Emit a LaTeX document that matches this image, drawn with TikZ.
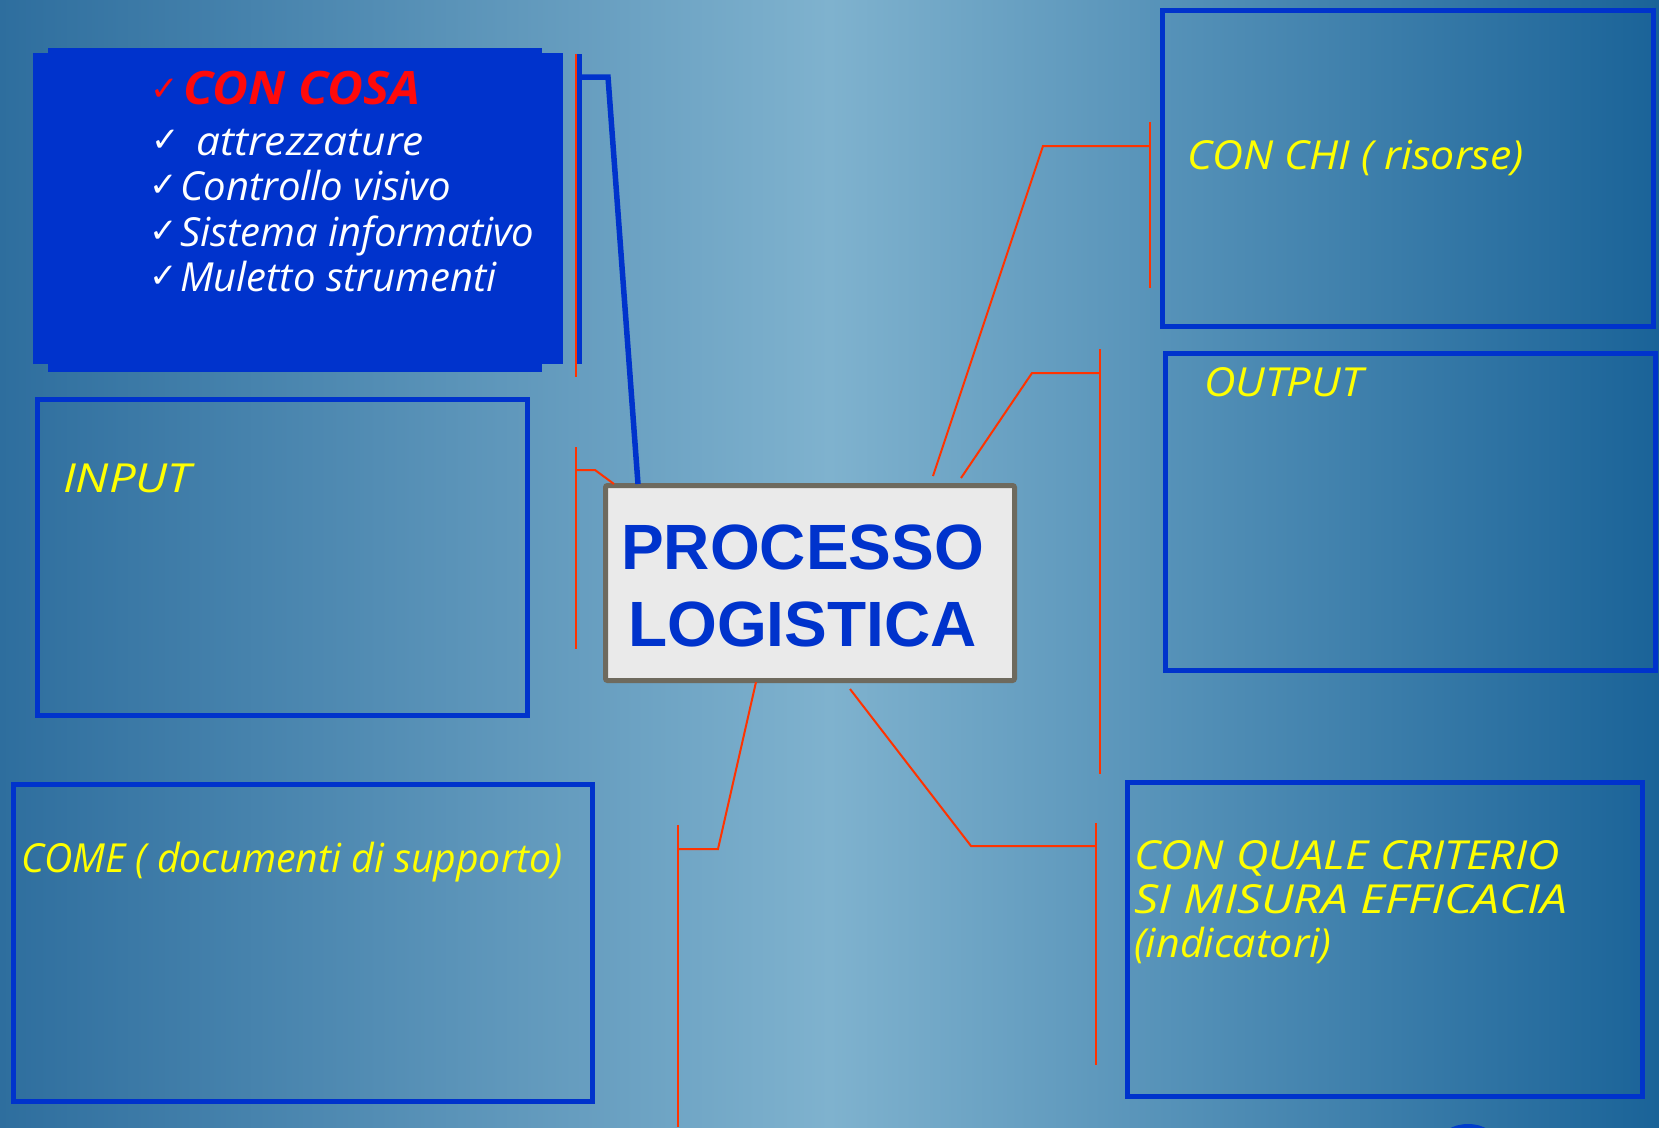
\documentclass[tikz,border=0pt]{standalone}
\usepackage{graphicx}
\usepackage{fontspec}
\setmainfont{Open Sans}
\newfontfamily\titlefont{Liberation Sans}
\newfontfamily\tickfont{DejaVu Sans}
\usetikzlibrary{positioning}

\definecolor{bgdark}{RGB}{46,110,158}
\definecolor{bgdarkr}{RGB}{26,99,152}
\definecolor{bglight}{RGB}{127,178,206}
\definecolor{boxblue}{RGB}{0,51,204}
\definecolor{noteyellow}{RGB}{255,255,0}
\definecolor{linkred}{RGB}{255,51,0}
\definecolor{cosared}{RGB}{255,10,10}
\definecolor{procgray}{RGB}{110,106,94}
\definecolor{procfill}{RGB}{234,234,234}

% widen a text like the hand font of the slide
\newcommand{\widen}[2]{\scalebox{#1}[1]{#2}}

\begin{document}
\begin{tikzpicture}[x=1pt,y=-1pt,
    panel/.style={draw=boxblue, line width=5pt, inner sep=0pt},
    note/.style={anchor=base west, inner sep=0pt, text=noteyellow,
      font=\itshape\fontsize{40}{45}\selectfont},
    item/.style={anchor=base west, inner sep=0pt, text=white,
      font=\itshape\fontsize{40}{45}\selectfont},
    tick/.style={anchor=base west, inner sep=0pt, text=white,
      font=\tickfont\fontsize{34}{34}\selectfont},
    link/.style={draw=linkred, line width=2pt},
    bar/.style={draw=boxblue, line width=5.5pt}
  ]
  \useasboundingbox (0,0) rectangle (1659,1127);
  \shade[left color=bgdark, right color=bgdarkr, middle color=bglight]
    (0,0) rectangle (1659,1127);

  % con cosa block
  \fill[boxblue] (33,53) rectangle (563,364);
  \fill[boxblue] (48,48) rectangle (542,372);
  \node (t0) [tick, text=cosared] at (150,100) {✓};
  \node (cosa) [item, text=cosared, font=\bfseries\itshape\fontsize{46}{46}\selectfont] at (183,104) {\widen{1.07}{CON COSA}};
  \node (t1) [tick] at (151,151) {✓};
  \node (i1) [item] at (196,155) {\widen{1.06}{attrezzature}};
  \node (t2) [tick] at (149,196) {✓};
  \node (i2) [item] at (180,200) {Controllo visivo};
  \node (t3) [tick] at (149,242) {✓};
  \node (i3) [item] at (180,246) {Sistema informativo};
  \node (t4) [tick] at (149,287) {✓};
  \node (i4) [item] at (180,291) {Muletto strumenti};

  % panels
  \node (input) [panel, minimum width=490pt, minimum height=316pt] at (282,557) {};
  \node (come) [panel, minimum width=579pt, minimum height=317pt] at (302.5,942.5) {};
  \node (chi) [panel, minimum width=491pt, minimum height=316pt] at (1407.5,168) {};
  \node (output) [panel, minimum width=490pt, minimum height=317pt] at (1410,511.5) {};
  \node (quale) [panel, minimum width=515pt, minimum height=314pt] at (1384.5,939) {};

  \node (inputtxt) [note] at (63,492) {\widen{1.18}{INPUT}};
  \node (cometxt) [note] at (21,872) {\widen{0.98}{COME ( documenti di supporto)}};
  \node (chitxt) [note] at (1187,169) {\widen{1.07}{CON CHI ( risorse)}};
  \node (outputtxt) [note] at (1204,396) {\widen{1.09}{OUTPUT}};
  \node (qualea) [note] at (1134,869) {\widen{1.12}{CON QUALE CRITERIO}};
  \node (qualeb) [note] at (1134,913) {\widen{1.2}{SI MISURA EFFICACIA}};
  \node (qualec) [note] at (1134,957) {\widen{1.03}{(indicatori)}};

  % central node
  \node (proc) [draw=procgray, fill=procfill, line width=5pt, rounded corners=2pt,
    minimum width=409pt, minimum height=195pt, inner sep=0pt] at (810,583) {};
  \node (proctxt) [align=center, inner sep=0pt, text=boxblue,
    font=\titlefont\bfseries\fontsize{64}{77}\selectfont]
    at (802.5,586) {PROCESSO\\LOGISTICA};

  % connectors
  \coordinate (cosa-top) at (579.5,54);
  \coordinate (cosa-bot) at (579.5,364);
  \coordinate (cosa-arm) at (579.5,77);
  \coordinate (cosa-bend) at (608,77);
  \coordinate (proc-cosa) at (638,484);
  \draw[link] (576,54) -- (576,377);
  \draw[bar] (cosa-top) -- (cosa-bot);
  \draw[bar] (cosa-arm) -- (cosa-bend) -- (proc-cosa);

  \coordinate (proc-input) at (614,484);
  \draw[link] (proc-input) -- (595,470) -- (576,470);
  \draw[link] (576,447) -- (576,649);

  \coordinate (proc-come) at (756,682);
  \draw[link] (proc-come) -- (718,849) -- (678,849);
  \draw[link] (678,825) -- (678,1127);

  \coordinate (proc-chi) at (933,476);
  \draw[link] (proc-chi) -- (1043,146) -- (1150,146);
  \draw[link] (1150,122) -- (1150,288);

  \coordinate (proc-output) at (961,478);
  \draw[link] (proc-output) -- (1032,373) -- (1100,373);
  \draw[link] (1100,349) -- (1100,774);

  \coordinate (proc-quale) at (850,689);
  \draw[link] (proc-quale) -- (971,846) -- (1096,846);
  \draw[link] (1096,823) -- (1096,1065);

  \begin{scope}
    \clip (0,0) rectangle (1659,1127);
    \fill[blue!70!cyan!80!black] (1468,1142) ellipse (28pt and 18pt);
  \end{scope}
\end{tikzpicture}
\end{document}
